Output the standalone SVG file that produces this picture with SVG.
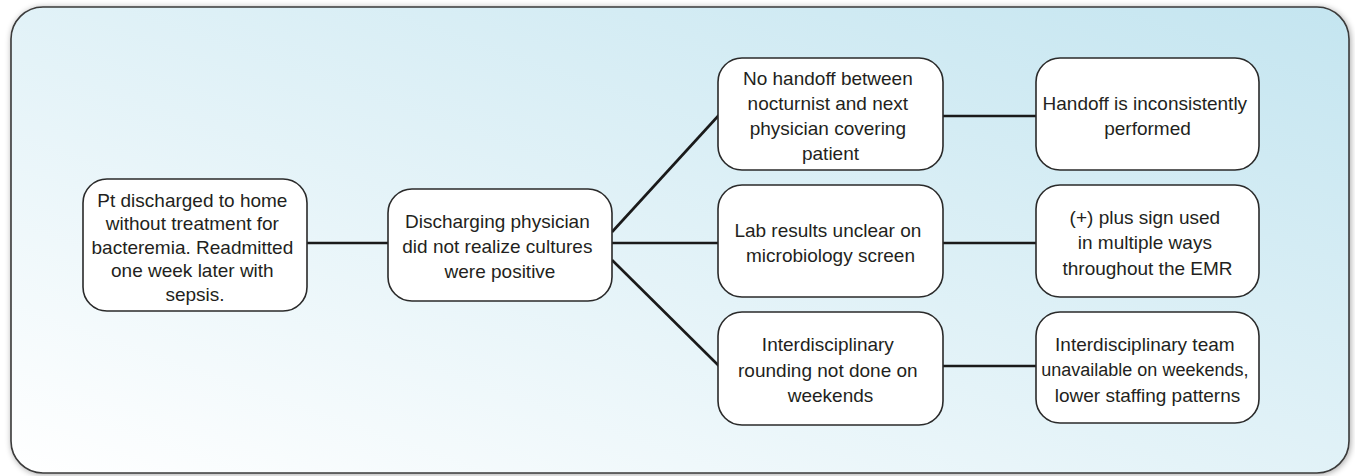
<svg xmlns="http://www.w3.org/2000/svg" width="1355" height="476" viewBox="0 0 1355 476">
  <defs>
    <linearGradient id="bg" x1="0" y1="1" x2="1" y2="0">
      <stop offset="0" stop-color="#ffffff"/>
      <stop offset="0.45" stop-color="#e4f3f8"/>
      <stop offset="1" stop-color="#c4e5f0"/>
    </linearGradient>
    <filter id="shadow" x="-5%" y="-5%" width="110%" height="110%">
      <feGaussianBlur in="SourceAlpha" stdDeviation="3"/>
      <feOffset dx="1" dy="1" result="b"/>
      <feComponentTransfer><feFuncA type="linear" slope="0.35"/></feComponentTransfer>
      <feMerge><feMergeNode/><feMergeNode in="SourceGraphic"/></feMerge>
    </filter>
    <style>
      .frame { fill: url(#bg); stroke: #3a3a3a; stroke-width: 1.6; }
      .box { fill: #ffffff; stroke: #2a2a2a; stroke-width: 1.6; }
      .lbl { font-family: "Liberation Sans", Arial, sans-serif; font-size: 19px; fill: #231f20; text-anchor: middle; }
      .conn line { stroke: #1a1a1a; stroke-width: 2.6; stroke-linecap: butt; }
    </style>
  </defs>

  <rect class="frame" x="11" y="7" width="1338" height="466" rx="32" ry="32" filter="url(#shadow)"/>

  <g id="connectors" class="conn">
    <line x1="307" y1="243" x2="388" y2="243"/>
    <line x1="612" y1="232" x2="719" y2="115"/>
    <line x1="612" y1="243" x2="718" y2="243"/>
    <line x1="612" y1="260" x2="719" y2="366"/>
    <line x1="943" y1="116" x2="1036" y2="116"/>
    <line x1="943" y1="243" x2="1036" y2="243"/>
    <line x1="943" y1="366" x2="1036" y2="366"/>
  </g>

  <g id="node-pt">
    <rect class="box" x="83" y="179" width="224" height="132" rx="24"/>
    <text class="lbl" x="195">
      <tspan x="195" y="206.5">Pt discharged to home</tspan>
      <tspan x="195" y="230">without treatment for</tspan>
      <tspan x="195" y="253.5">bacteremia. Readmitted</tspan>
      <tspan x="195" y="277">one week later with</tspan>
      <tspan x="195" y="300.5">sepsis.</tspan>
    </text>
  </g>

  <g id="node-discharging">
    <rect class="box" x="388" y="189" width="224" height="112" rx="24"/>
    <text class="lbl">
      <tspan x="500" y="227.5">Discharging physician</tspan>
      <tspan x="500" y="252.5">did not realize cultures</tspan>
      <tspan x="500" y="277.5">were positive</tspan>
    </text>
  </g>

  <g id="node-nohandoff">
    <rect class="box" x="718" y="58" width="225" height="112" rx="24"/>
    <text class="lbl">
      <tspan x="830.5" y="84.5">No handoff between</tspan>
      <tspan x="830.5" y="109.5">nocturnist and next</tspan>
      <tspan x="830.5" y="134.5">physician covering</tspan>
      <tspan x="830.5" y="159.5">patient</tspan>
    </text>
  </g>

  <g id="node-handoff-inconsistent">
    <rect class="box" x="1036" y="58" width="223" height="112" rx="24"/>
    <text class="lbl">
      <tspan x="1147.5" y="109.5">Handoff is inconsistently</tspan>
      <tspan x="1147.5" y="134.5">performed</tspan>
    </text>
  </g>

  <g id="node-lab">
    <rect class="box" x="718" y="185" width="225" height="112" rx="24"/>
    <text class="lbl">
      <tspan x="830.5" y="236.5">Lab results unclear on</tspan>
      <tspan x="830.5" y="261.5">microbiology screen</tspan>
    </text>
  </g>

  <g id="node-plus">
    <rect class="box" x="1036" y="185" width="223" height="112" rx="24"/>
    <text class="lbl">
      <tspan x="1147.5" y="223.5">(+) plus sign used</tspan>
      <tspan x="1147.5" y="249">in multiple ways</tspan>
      <tspan x="1147.5" y="274.5">throughout the EMR</tspan>
    </text>
  </g>

  <g id="node-rounding">
    <rect class="box" x="718" y="312" width="225" height="113" rx="24"/>
    <text class="lbl">
      <tspan x="830.5" y="351">Interdisciplinary</tspan>
      <tspan x="830.5" y="376.5">rounding not done on</tspan>
      <tspan x="830.5" y="402">weekends</tspan>
    </text>
  </g>

  <g id="node-team">
    <rect class="box" x="1036" y="312" width="223" height="111" rx="24"/>
    <text class="lbl">
      <tspan x="1147.5" y="350.5">Interdisciplinary team</tspan>
      <tspan x="1147.5" y="376" font-size="18">unavailable on weekends,</tspan>
      <tspan x="1147.5" y="401.5">lower staffing patterns</tspan>
    </text>
  </g>
</svg>
